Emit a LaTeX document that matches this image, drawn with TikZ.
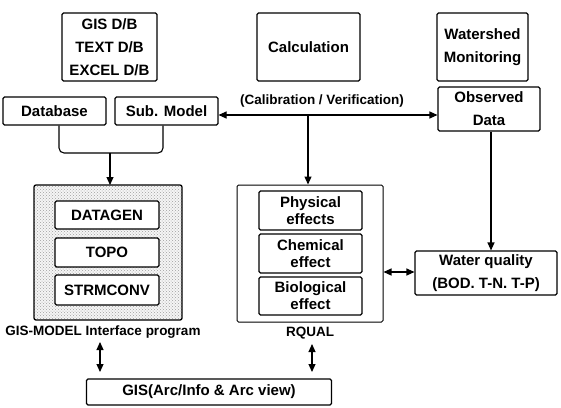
\documentclass[tikz,border=0pt]{standalone}
\usepackage{fontspec}
\setmainfont{Liberation Sans}
\usetikzlibrary{arrows.meta,patterns}
\begin{document}
\begin{tikzpicture}[x=1pt,y=-1pt,
  bx/.style={draw,line width=1.1pt,rounded corners=1.5pt,inner sep=0pt,align=center,
    font=\fontsize{15}{17}\selectfont\bfseries},
  lbl/.style={inner sep=0pt,font=\fontsize{13.5}{15}\selectfont\bfseries},
  ln/.style={line width=1.1pt},
  arr/.style={ln,-{Triangle[length=8pt,width=7pt]}},
  darr/.style={ln,{Triangle[length=8pt,width=7pt]}-{Triangle[length=8pt,width=7pt]}}]
\useasboundingbox (0,0) rectangle (561,407);
% top row
\node[bx,minimum width=95pt,minimum height=68pt,font=\fontsize{15}{23}\selectfont\bfseries] (gisdb) at (109.5,47) {GIS D/B\\TEXT D/B\\EXCEL D/B};
\node[bx,minimum width=103pt,minimum height=68pt] (calc) at (308.5,47) {Calculation};
\node[bx,minimum width=91pt,minimum height=68pt,font=\fontsize{15}{23}\selectfont\bfseries] (ws) at (482.5,47) {Watershed\\Monitoring};
\node[bx,minimum width=102pt,minimum height=44pt,font=\fontsize{15}{23}\selectfont\bfseries] (obs) at (489,109) {Observed\\Data};
\node[bx,minimum width=103pt,minimum height=28pt] (db) at (54.5,111) {Database};
\node[bx,minimum width=103pt,minimum height=28pt] (sub) at (166.5,111) {Sub. Model};
% GIS-MODEL interface block
\draw[line width=1.3pt,rounded corners=2pt,preaction={fill=gray!8},pattern=crosshatch dots,pattern color=gray!75] (34,185) rectangle (182,320);
\node[bx,fill=white,minimum width=104pt,minimum height=28pt] (datagen) at (107,215) {DATAGEN};
\node[bx,fill=white,minimum width=104pt,minimum height=29pt] (topo) at (107,252.5) {TOPO};
\node[bx,fill=white,minimum width=104pt,minimum height=30pt] (strm) at (107,290) {STRMCONV};
\coordinate (gm) at (108,185);
\node[lbl] (gmlabel) at (103,332) {GIS-MODEL Interface program};
% RQUAL block
\node[draw,line width=1pt,rounded corners=1.5pt,minimum width=146pt,minimum height=137pt,inner sep=0pt] (rq) at (310,253.5) {};
\node[bx,minimum width=103pt,minimum height=39pt,font=\fontsize{15}{17}\selectfont\bfseries] (phys) at (310.5,210.5) {Physical\\effects};
\node[bx,minimum width=103pt,minimum height=39pt,font=\fontsize{15}{17}\selectfont\bfseries] (chem) at (310.5,253.5) {Chemical\\effect};
\node[bx,minimum width=103pt,minimum height=38pt,font=\fontsize{15}{17}\selectfont\bfseries] (bio) at (310.5,296) {Biological\\effect};
\node[lbl] (rqlabel) at (310,333) {RQUAL};
% water quality
\node[bx,minimum width=142pt,minimum height=44pt,font=\fontsize{15}{23}\selectfont\bfseries] (wq) at (486,273) {Water quality\\(BOD. T-N. T-P)};
% GIS
\node[bx,minimum width=245pt,minimum height=26pt] (gis) at (209,392) {GIS(Arc/Info \& Arc view)};
% calibration
\node[lbl] (cal) at (322,101) {(Calibration / Verification)};
\coordinate (cy) at (0,115);
\coordinate (cm) at (308,115);
\draw[darr] (sub.east |- cy) -- (obs.west |- cy);
\draw[arr] (cm) -- (cm |- rq.north);
% database / sub model join
\coordinate (j) at (110,153);
\draw[ln,rounded corners=5pt] ([xshift=4.5pt]db.south) |- (j) -| ([xshift=-3.5pt]sub.south);
\draw[arr] (j) -- (j |- gm);
% observed -> water quality
\draw[arr] ([xshift=2pt]obs.south) -- ([xshift=2pt]obs.south |- wq.north);
% RQUAL <-> water quality
\coordinate (wy) at (0,272);
\draw[darr] (rq.east |- wy) -- (wq.west |- wy);
% to GIS
\coordinate (ga) at (100,342);
\coordinate (gb) at (312,344);
\draw[darr] (ga) -- (ga |- 0,372);
\draw[darr] (gb) -- (gb |- 0,372);
\end{tikzpicture}
\end{document}
